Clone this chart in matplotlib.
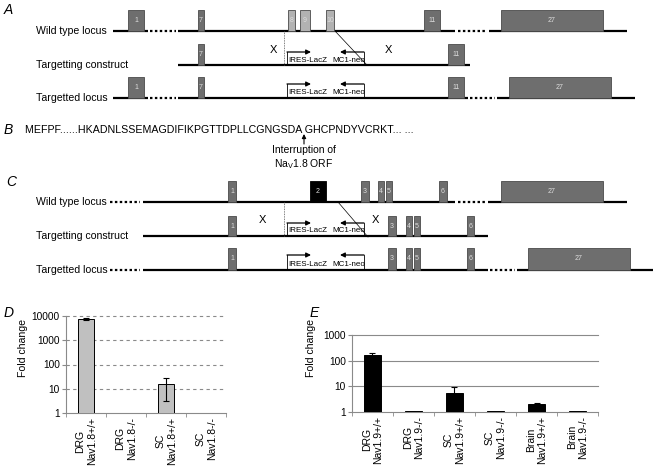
import numpy as np
import matplotlib.pyplot as plt
from matplotlib.patches import Rectangle
from matplotlib.ticker import NullLocator

plt.rcParams['font.family'] = ['Liberation Sans', 'DejaVu Sans']

# ---- D : Nav1.8 fold change ----
d_labels = ["DRG\nNav1.8+/+", "DRG\nNav1.8-/-", "SC\nNav1.8+/+", "SC\nNav1.8-/-"]
d_fold = [7500, 1.02, 16, 1.02]
d_err = [800, 0, 13, 0]
d_ticks = [1, 10, 100, 1000, 10000]

# ---- E : Nav1.9 fold change ----
e_labels = ["DRG\nNav1.9+/+", "DRG\nNav1.9-/-", "SC\nNav1.9+/+", "SC\nNav1.9-/-",
            "Brain\nNav1.9+/+", "Brain\nNav1.9-/-"]
e_fold = [165, 1.02, 5.3, 1.02, 2.0, 1.02]
e_err = [35, 0, 3.7, 0, 0.12, 0]
e_ticks = [1, 10, 100, 1000]

# ---- B : sequence ----
seq_text = "MEFPF......HKADNLSSEMAGDIFIKPGTTDPLLCGNGSDA GHCPNDYVCRKT... ..."
seq_note = "Interruption of\nNa$_{\\mathregular{V}}$1.8 ORF"

row_names = ["Wild type locus", "Targetting construct", "Targetted locus"]

# exons of the gene maps: name and span (picture pixels)
a_wt_names = ["1", "7", "8", "9", "10", "11", "27"]
a_wt_span = [(128, 144), (198, 204), (288, 295), (300, 310), (326, 334), (424, 440), (501, 603)]
a_con_names = ["7", "11"]
a_con_span = [(198, 204), (448, 464)]
a_tg_names = ["1", "7", "11", "27"]
a_tg_span = [(128, 144), (198, 204), (448, 464), (509, 611)]

c_wt_names = ["1", "2", "3", "4", "5", "6", "27"]
c_wt_span = [(228, 236), (310, 326), (361, 369), (378, 384), (386, 392), (439, 447), (501, 603)]
c_con_names = ["1", "3", "4", "5", "6"]
c_con_span = [(228, 236), (388, 396), (406, 412), (414, 420), (467, 474)]
c_tg_names = ["1", "3", "4", "5", "6", "27"]
c_tg_span = [(228, 236), (388, 396), (406, 412), (414, 420), (467, 474), (528, 630)]

DARK = '#6e6e6e'
LIGHT = '#b2b2b2'

fig = plt.figure(figsize=(6.54, 4.67), dpi=100)
ax = fig.add_axes([0, 0, 1, 1])
ax.set_xlim(0, 654)
ax.set_ylim(467, 0)
ax.axis('off')


def exons(names, spans, ybase, ytop, colors):
    for nm, (x0, x1), c in zip(names, spans, colors):
        ec = 'black' if c == 'black' else '#4a4a4a'
        ax.add_patch(Rectangle((x0, ytop), x1 - x0, ybase - ytop, fc=c, ec=ec, lw=0.6, zorder=3))
        ax.text((x0 + x1) / 2, (ybase + ytop) / 2, nm, color='#dddddd', fontsize=5,
                ha='center', va='center', zorder=4)


def locus(y, solid, dotted):
    for x0, x1 in solid:
        ax.plot([x0, x1], [y, y], color='black', lw=1.6, solid_capstyle='butt', zorder=2)
    for x0, x1 in dotted:
        ax.plot([x0, x1], [y, y], color='black', lw=1.6, ls=(0, (1.1, 1.1)), zorder=2)


def cassette(y, ya):
    ax.plot([287, 287], [y, ya], color='black', lw=0.6)
    ax.plot([364, 364], [y, ya], color='black', lw=0.6)
    ax.annotate("", xy=(311, ya), xytext=(287, ya),
                arrowprops=dict(arrowstyle='-|>', color='black', lw=0.9, mutation_scale=7,
                                shrinkA=0, shrinkB=0))
    ax.annotate("", xy=(340, ya), xytext=(364, ya),
                arrowprops=dict(arrowstyle='-|>', color='black', lw=0.9, mutation_scale=7,
                                shrinkA=0, shrinkB=0))
    ax.text(288.5, y - 5, "IRES-LacZ", fontsize=5.8, ha='left', va='center')
    ax.text(332, y - 5, "MC1-neo", fontsize=5.8, ha='left', va='center')


def row_labels(ys):
    for nm, y in zip(row_names, ys):
        ax.text(36, y, nm, fontsize=7.6, ha='left', va='center')


# ---------- A ----------
ax.text(4, 10, "A", fontsize=10, style='italic', va='center')
row_labels([31, 65, 98])
locus(31, [(113, 148), (178, 455), (489, 627)], [(150, 176), (458, 487)])
locus(65, [(178, 470)], [])
locus(98, [(113, 148), (178, 468), (497, 635)], [(150, 176), (470, 495)])
exons(a_wt_names, a_wt_span, 31, 10, [DARK, DARK, LIGHT, LIGHT, LIGHT, DARK, DARK])
exons(a_con_names, a_con_span, 65, 44, [DARK] * 2)
exons(a_tg_names, a_tg_span, 98, 77, [DARK] * 4)
ax.plot([284, 284], [31, 65], color='#555555', lw=0.6, ls=(0, (1, 1)))
ax.plot([335, 366], [31, 64], color='black', lw=0.5)
cassette(65, 52)
cassette(98, 84)
ax.text(273, 50, "X", fontsize=8, ha='center', va='center')
ax.text(388, 50, "X", fontsize=8, ha='center', va='center')

# ---------- B ----------
ax.text(4, 130, "B", fontsize=10, style='italic', va='center')
ax.text(25, 130, seq_text, fontsize=7.7, ha='left', va='center')
ax.annotate("", xy=(304, 134), xytext=(304, 144),
            arrowprops=dict(arrowstyle='-|>', color='black', lw=0.8, mutation_scale=6,
                            shrinkA=0, shrinkB=0))
ax.text(304, 158, seq_note, fontsize=7.5, ha='center', va='center', linespacing=1.3)

# ---------- C ----------
ax.text(6, 182, "C", fontsize=10, style='italic', va='center')
row_labels([202, 236, 270])
locus(202, [(143, 455), (488, 627)], [(110, 140), (458, 485)])
locus(236, [(143, 488)], [])
locus(270, [(143, 488), (517, 653)], [(110, 140), (490, 515)])
exons(c_wt_names, c_wt_span, 202, 181, [DARK, 'black', DARK, DARK, DARK, DARK, DARK])
exons(c_con_names, c_con_span, 236, 216, [DARK] * 5)
exons(c_tg_names, c_tg_span, 270, 248, [DARK] * 6)
ax.plot([284, 284], [202, 236], color='#555555', lw=0.6, ls=(0, (1, 1)))
ax.plot([338, 368], [202, 237], color='black', lw=0.5)
cassette(236, 223)
cassette(270, 255)
ax.text(262, 220, "X", fontsize=8, ha='center', va='center')
ax.text(375, 220, "X", fontsize=8, ha='center', va='center')


# ---------- bar charts ----------
def fold_plot(axb, labels, fold, err, ticks, color, gridstyle):
    x = np.arange(len(labels))
    fold = np.array(fold)
    err = np.array(err)
    axb.bar(x, fold - 1, bottom=1, width=0.42, color=color, edgecolor='black', lw=0.7, zorder=3)
    m = err > 0
    axb.errorbar(x[m], fold[m], yerr=err[m], fmt='none', ecolor='black', elinewidth=0.8,
                 capsize=2.5, capthick=0.8, zorder=4)
    axb.set_yscale('log')
    axb.set_ylim(ticks[0], ticks[-1])
    axb.set_xlim(-0.5, len(labels) - 0.5)
    for v in ticks[1:]:
        axb.axhline(v, color='#8a8a8a', lw=0.8, ls=gridstyle, zorder=1, clip_on=False)
    axb.set_yticks(ticks)
    axb.set_yticklabels([str(t) for t in ticks], fontsize=7.3)
    axb.yaxis.set_minor_locator(NullLocator())
    axb.set_xticks(x)
    axb.set_xticklabels(labels, rotation=90, fontsize=7.5, va='top', ha='center',
                        multialignment='center')
    axb.set_xticks(np.arange(len(labels) + 1) - 0.5, minor=True)
    axb.tick_params(axis='x', which='major', length=0, pad=3)
    axb.tick_params(axis='x', which='minor', length=3, color='#8a8a8a')
    axb.tick_params(axis='y', length=3, color='#8a8a8a', pad=1.5)
    for s in ['top', 'right']:
        axb.spines[s].set_visible(False)
    for s in ['left', 'bottom']:
        axb.spines[s].set_color('#8a8a8a')
        axb.spines[s].set_linewidth(0.8)
    axb.set_ylabel("Fold change", fontsize=7.6)


axd = fig.add_axes([66 / 654, 54 / 467, 160 / 654, 97 / 467])
fold_plot(axd, d_labels, d_fold, d_err, d_ticks, '#c0c0c0', (0, (3, 3)))
axd.yaxis.set_label_coords(-0.24, 0.67)
ax.text(4, 313, "D", fontsize=10, style='italic', va='center')

axe = fig.add_axes([352 / 654, 55.3 / 467, 246 / 654, 76.7 / 467])
fold_plot(axe, e_labels, e_fold, e_err, e_ticks, 'black', '-')
axe.yaxis.set_label_coords(-0.146, 0.83)
ax.text(310, 313, "E", fontsize=10, style='italic', va='center')

fig.savefig("out.png", dpi=100)
